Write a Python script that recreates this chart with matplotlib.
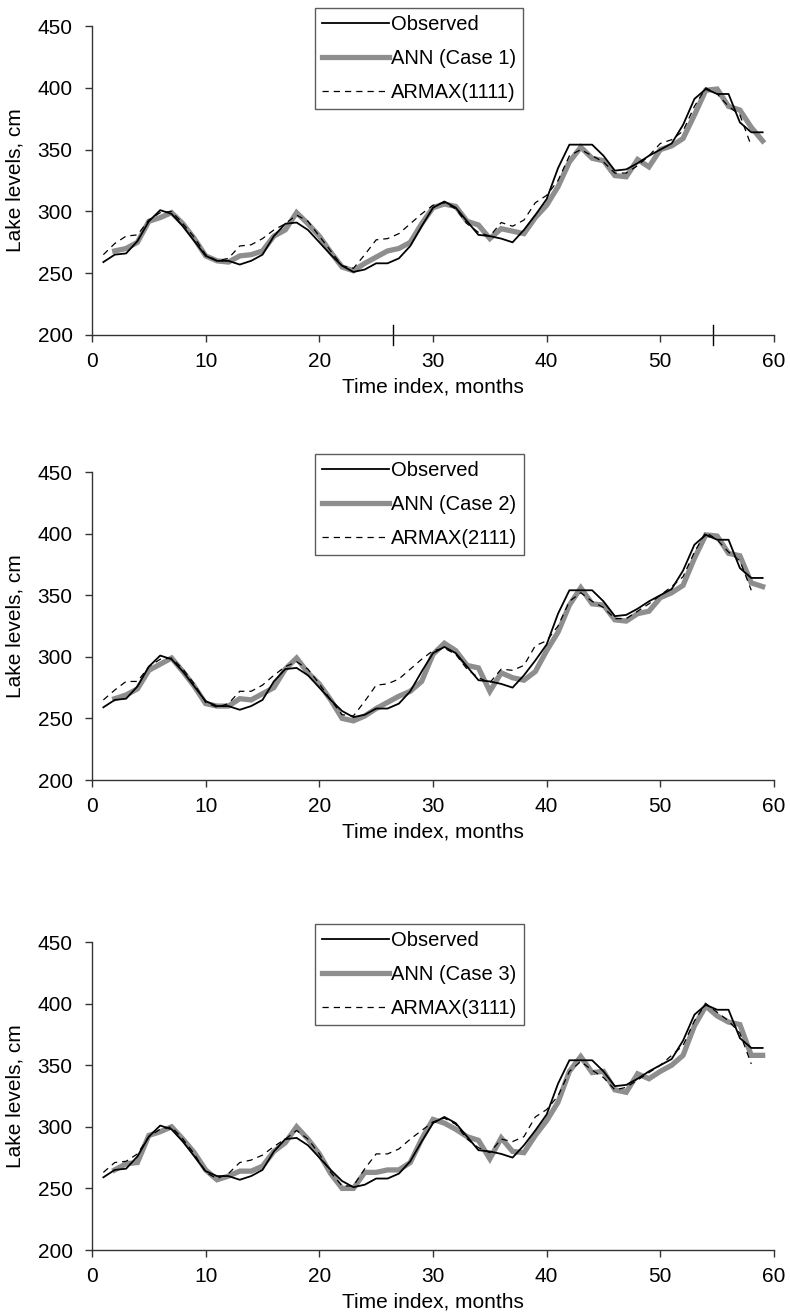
import matplotlib
matplotlib.use("Agg")
import matplotlib.pyplot as plt

plt.rcParams['font.family'] = ['Liberation Sans', 'DejaVu Sans']

# ---------------- data ----------------
t_obs = list(range(1, 60))
observed = [259, 265, 266, 276, 292, 301, 298, 288, 276, 264,
            260, 260, 257, 260, 265, 280, 290, 291, 285, 275,
            265, 256, 251, 253, 258, 258, 262, 272, 288, 303,
            308, 303, 292, 281, 280, 278, 275, 285, 297, 310,
            335, 354, 354, 354, 345, 333, 334, 339, 345, 350,
            355, 370, 391, 399, 395, 395, 372, 364, 364]

t_ann = list(range(2, 60))
ann_case1 = [268, 270, 275, 292, 295, 299, 290, 278, 264,
             260, 259, 264, 265, 268, 280, 285, 299, 290, 280,
             267, 255, 252, 258, 263, 268, 270, 275, 290, 303,
             306, 304, 292, 289, 278, 286, 284, 282, 295, 305,
             320, 340, 352, 343, 341, 329, 328, 342, 336, 350,
             353, 359, 378, 398, 399, 385, 382, 368, 357]
ann_case2 = [266, 269, 274, 289, 294, 299, 288, 276, 262,
             260, 260, 266, 265, 270, 275, 290, 299, 287, 278,
             265, 250, 248, 252, 258, 263, 268, 272, 280, 302,
             311, 305, 293, 291, 272, 287, 283, 281, 288, 305,
             320, 342, 356, 343, 342, 330, 329, 335, 337, 348,
             352, 358, 380, 399, 398, 384, 382, 360, 357]
ann_case3 = [265, 270, 271, 293, 296, 300, 290, 279, 265,
             257, 260, 264, 264, 268, 280, 287, 300, 290, 278,
             262, 250, 250, 263, 263, 265, 265, 271, 290, 306,
             303, 298, 292, 289, 274, 291, 280, 279, 293, 305,
             320, 345, 357, 344, 345, 330, 328, 343, 339, 345,
             350, 358, 382, 398, 390, 385, 383, 358, 358]

t_armax = list(range(1, 59))
armax_1111 = [265, 274, 280, 281, 293, 299, 300, 290, 279, 265,
              260, 262, 272, 273, 278, 285, 290, 297, 292, 280,
              268, 256, 254, 265, 277, 278, 282, 290, 298, 305,
              307, 302, 290, 283, 280, 291, 288, 293, 307, 313,
              325, 345, 350, 345, 340, 331, 331, 337, 345, 355,
              358, 365, 385, 400, 395, 385, 378, 353]
armax_2111 = [265, 273, 280, 280, 292, 298, 299, 290, 278, 263,
              259, 262, 272, 272, 277, 285, 292, 296, 290, 278,
              265, 253, 252, 264, 277, 278, 282, 290, 298, 305,
              307, 302, 290, 283, 279, 290, 289, 293, 309, 313,
              325, 345, 352, 345, 340, 331, 331, 337, 343, 350,
              357, 365, 385, 401, 395, 385, 378, 354]
armax_3111 = [263, 271, 272, 278, 292, 298, 300, 290, 278, 263,
              258, 262, 271, 273, 277, 284, 290, 297, 290, 278,
              263, 252, 252, 266, 278, 278, 282, 290, 297, 304,
              307, 302, 290, 283, 279, 290, 288, 292, 308, 314,
              325, 345, 353, 346, 340, 330, 332, 338, 344, 350,
              358, 366, 386, 400, 393, 386, 376, 351]

ann_labels = ["ANN (Case 1)", "ANN (Case 2)", "ANN (Case 3)"]
armax_labels = ["ARMAX(1111)", "ARMAX(2111)", "ARMAX(3111)"]
ann_series = [ann_case1, ann_case2, ann_case3]
armax_series = [armax_1111, armax_2111, armax_3111]

x_ticks = [0, 10, 20, 30, 40, 50, 60]
y_ticks = [200, 250, 300, 350, 400, 450]
extra_marks_x = [26.5, 54.6]   # stray vertical marks on first panel's x axis

# ---------------- figure ----------------
W, H = 790, 1316
fig = plt.figure(figsize=(W / 100, H / 100), dpi=100)

def fx(px):
    return px / W

def fy(py):
    return 1 - py / H

axes_px = [(26, 335), (472, 780), (942, 1250)]   # top, bottom pixel rows
left_px, right_px = 92, 774

for i, (top, bot) in enumerate(axes_px):
    ax = fig.add_axes([fx(left_px), fy(bot), fx(right_px) - fx(left_px), (bot - top) / H])
    ax.plot(t_obs, observed, color='black', lw=1.3, label='Observed', zorder=3)
    ax.plot(t_ann, ann_series[i], color='#8e8e8e', lw=3.8, label=ann_labels[i],
            solid_joinstyle='miter', zorder=2)
    ax.plot(t_armax, armax_series[i], color='black', lw=0.9,
            linestyle=(0, (5, 4)), label=armax_labels[i], zorder=4)

    ax.set_xlim(0, 60)
    ax.set_ylim(200, 450)
    ax.set_xticks(x_ticks)
    ax.set_yticks(y_ticks)
    for s in ['top', 'right']:
        ax.spines[s].set_visible(False)
    for s in ['left', 'bottom']:
        ax.spines[s].set_color('#333333')
        ax.spines[s].set_linewidth(1.0)
    ax.tick_params(direction='out', length=5, width=1, color='#333333',
                   labelsize=15)
    ax.tick_params(axis='y', pad=9)
    ax.tick_params(axis='x', pad=7)
    ax.set_xlabel('Time index, months', fontsize=15, labelpad=5)
    ax.set_ylabel('Lake levels, cm', fontsize=15)
    ax.yaxis.set_label_coords(-0.099, 0.5)

    if i == 0:
        for xm in extra_marks_x:
            ax.plot([xm, xm], [192, 208], color='black', lw=1.0, clip_on=False)

    leg = ax.legend(loc='upper left',
                    bbox_to_anchor=(fx(315), fy(top - 18)),
                    bbox_transform=fig.transFigure,
                    fontsize=14.5, frameon=True, fancybox=False,
                    borderaxespad=0, borderpad=0.35, handlelength=3.3,
                    handletextpad=0.1, labelspacing=0.75)
    leg.get_frame().set_edgecolor('#333333')
    leg.get_frame().set_linewidth(1.0)

fig.savefig('out.png', dpi=100)
